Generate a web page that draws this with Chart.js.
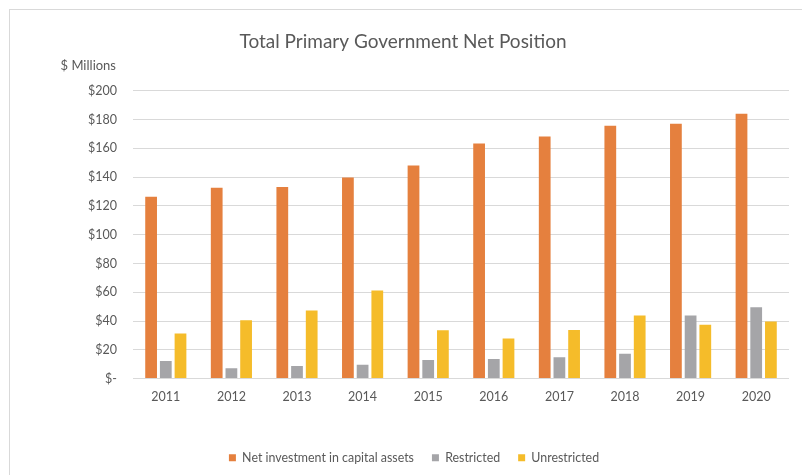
<!DOCTYPE html>
<html>
<head>
<meta charset="utf-8">
<script src="https://cdn.jsdelivr.net/npm/chart.js@4/dist/chart.umd.min.js"></script>
<style>
  html, body { margin: 0; padding: 0; background: #fff; overflow: hidden; }
  .frame { position: absolute; left: 9px; top: 9px; width: 900px; height: 600px; border: 1px solid #d9d9d9; }
  .wrap { position: absolute; left: 0; top: 0; width: 802px; height: 475px; }
</style>
</head>
<body>
<div class="frame"></div>
<div class="wrap"><canvas id="netPosition"></canvas></div>
<script>
const years = ['2011', '2012', '2013', '2014', '2015', '2016', '2017', '2018', '2019', '2020'];
const capitalAssets = [126.4, 132.6, 133.1, 139.8, 148.1, 163.4, 168.3, 175.7, 177.1, 184.0];
const restricted = [12.3, 7.2, 8.8, 9.7, 13.0, 13.7, 14.8, 17.3, 43.9, 49.6];
const unrestricted = [31.3, 40.6, 47.3, 61.3, 33.6, 27.8, 33.8, 43.8, 37.5, 39.6];

const textColor = '#595959';
const gridColor = '#d9d9d9';

// "$ Millions" sits above the value axis, not rotated
const unitLabel = {
  id: 'unitLabel',
  afterDraw(chart) {
    const { ctx, chartArea } = chart;
    ctx.save();
    ctx.font = '13px Lato';
    ctx.fillStyle = textColor;
    ctx.textAlign = 'right';
    ctx.textBaseline = 'middle';
    ctx.fillText('$ Millions', 116, chartArea.top - 25);
    ctx.restore();
  }
};

// nudge the legend a little to the right of the title's centre line
const legendShift = {
  id: 'legendShift',
  afterLayout(chart) {
    if (chart.legend) chart.legend.left += 22;
  }
};

new Chart(document.getElementById('netPosition'), {
  type: 'bar',
  data: {
    labels: years,
    datasets: [
      { label: 'Net investment in capital assets', data: capitalAssets, backgroundColor: '#e5803e' },
      { label: 'Restricted', data: restricted, backgroundColor: '#a5a5a8' },
      { label: 'Unrestricted', data: unrestricted, backgroundColor: '#f5bc2a' }
    ]
  },
  options: {
    responsive: true,
    maintainAspectRatio: false,
    animation: false,
    datasets: { bar: { categoryPercentage: 0.672, barPercentage: 0.8 } },
    layout: { padding: { left: 4, right: 0, top: 0, bottom: 1 } },
    scales: {
      x: {
        grid: { display: false },
        border: { display: false },
        ticks: { color: textColor, font: { family: 'Lato', size: 12.5 }, padding: 3 },
        afterFit: (s) => { s.height = 55; }
      },
      y: {
        min: 0,
        max: 200,
        ticks: {
          stepSize: 20,
          color: textColor,
          font: { family: 'Lato', size: 12.5 },
          padding: 16,
          callback: (v) => (v === 0 ? '$-' : '$' + v)
        },
        grid: { color: gridColor, lineWidth: 1, drawTicks: false },
        border: { display: false },
        afterFit: (s) => { s.width = 129; }
      },
      // empty strip on the right edge of the plot
      side: {
        type: 'linear',
        position: 'right',
        grid: { display: false },
        border: { display: false },
        ticks: { display: false },
        afterFit: (s) => { s.width = 13; }
      }
    },
    plugins: {
      title: {
        display: true,
        text: 'Total Primary Government Net Position',
        color: textColor,
        font: { family: 'Lato', size: 19, weight: 'normal' },
        padding: { top: 30, bottom: 38 }
      },
      legend: {
        position: 'bottom',
        labels: {
          color: textColor,
          font: { family: 'Lato', size: 12.4 },
          boxWidth: 7,
          boxHeight: 7,
          padding: 18
        }
      },
      tooltip: { enabled: false }
    }
  },
  plugins: [unitLabel, legendShift]
});
</script>
</body>
</html>
